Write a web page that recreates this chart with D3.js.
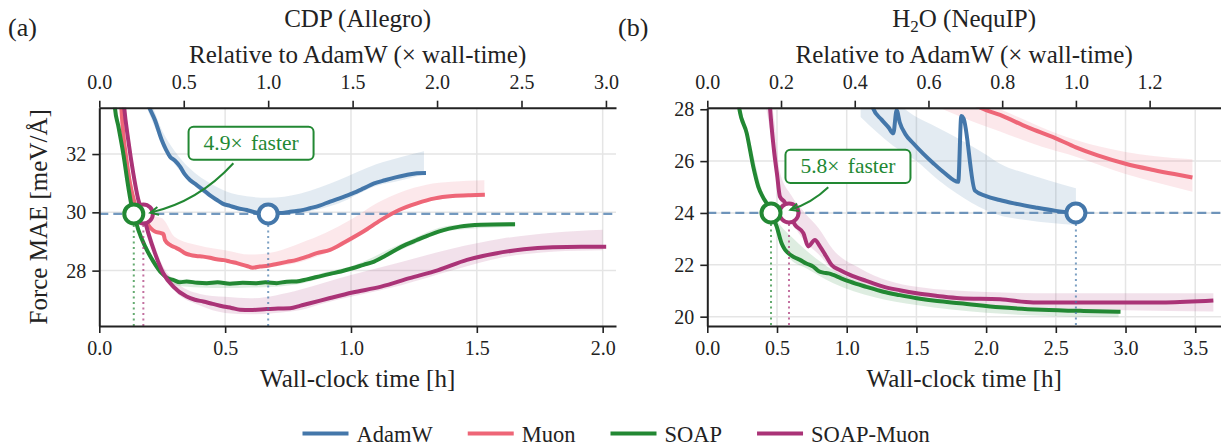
<!DOCTYPE html>
<html>
<head>
<meta charset="utf-8">
<script src="https://cdn.jsdelivr.net/npm/d3@7"></script>
<style>
  body { margin: 0; background: #fff; }
</style>
</head>
<body>
<svg id="chart" width="1221" height="446"></svg>
<script>
const optimizers = ["AdamW", "Muon", "SOAP", "SOAP-Muon"];
const colors = ["#4477AA", "#EE6677", "#228833", "#AA3377"];

// (a) CDP (Allegro): [time h, force MAE]
const cdpAdamW = [[0.185,33.9],[0.199,33.59],[0.221,33.17],[0.248,32.48],[0.265,32.15],[0.281,31.91],[0.3,31.78],[0.321,31.57],[0.34,31.3],[0.36,31.11],[0.385,30.95],[0.413,30.77],[0.44,30.58],[0.466,30.43],[0.49,30.3],[0.519,30.22],[0.55,30.14],[0.586,30.08],[0.61,30.02],[0.632,29.97],[0.671,29.945],[0.71,29.97],[0.735,29.99],[0.758,30.02],[0.8,30.06],[0.837,30.14],[0.875,30.23],[0.917,30.37],[0.96,30.5],[1.006,30.65],[1.05,30.82],[1.092,30.99],[1.135,31.1],[1.177,31.2],[1.22,31.28],[1.262,31.34],[1.298,31.35]];
const cdpMuon = [[0.085,33.9],[0.095,32.71],[0.108,31.8],[0.122,31.0],[0.135,30.5],[0.149,30.08],[0.168,29.8],[0.188,29.63],[0.205,29.45],[0.221,29.34],[0.248,29.28],[0.255,29.25],[0.261,29.05],[0.281,28.88],[0.3,28.8],[0.321,28.71],[0.34,28.6],[0.36,28.54],[0.385,28.5],[0.413,28.48],[0.44,28.44],[0.466,28.39],[0.495,28.36],[0.519,28.31],[0.55,28.25],[0.586,28.16],[0.61,28.1],[0.638,28.14],[0.67,28.17],[0.705,28.23],[0.745,28.3],[0.784,28.37],[0.825,28.48],[0.864,28.6],[0.917,28.71],[0.978,28.99],[1.049,29.34],[1.12,29.74],[1.191,30.08],[1.262,30.31],[1.333,30.48],[1.404,30.56],[1.475,30.59],[1.532,30.6]];
const cdpSoap = [[0.058,34.0],[0.062,33.59],[0.076,32.94],[0.095,32.03],[0.115,30.88],[0.129,30.2],[0.137,29.945],[0.155,29.4],[0.182,28.83],[0.215,28.31],[0.248,27.91],[0.27,27.75],[0.294,27.68],[0.32,27.6],[0.347,27.63],[0.39,27.58],[0.427,27.57],[0.47,27.6],[0.519,27.55],[0.57,27.58],[0.625,27.57],[0.66,27.6],[0.705,27.57],[0.745,27.62],[0.784,27.63],[0.825,27.7],[0.864,27.78],[0.917,27.89],[0.96,27.97],[1.006,28.08],[1.05,28.2],[1.092,28.31],[1.135,28.5],[1.177,28.71],[1.22,28.9],[1.262,29.05],[1.305,29.2],[1.348,29.34],[1.39,29.44],[1.432,29.51],[1.517,29.57],[1.652,29.59]];
const cdpSoapMuon = [[0.095,34.0],[0.099,33.59],[0.115,32.48],[0.135,31.34],[0.155,30.43],[0.175,29.91],[0.195,29.28],[0.221,28.6],[0.254,27.91],[0.294,27.45],[0.347,27.11],[0.38,27.0],[0.413,26.94],[0.45,26.86],[0.493,26.77],[0.525,26.72],[0.559,26.66],[0.6,26.65],[0.665,26.68],[0.71,26.7],[0.758,26.71],[0.8,26.8],[0.837,26.88],[0.917,27.06],[1.006,27.25],[1.12,27.45],[1.233,27.74],[1.347,28.02],[1.461,28.37],[1.574,28.59],[1.687,28.73],[1.801,28.8],[1.915,28.82],[2.014,28.82]];

// bands: [time h, low, high]
const cdpAdamWBand = [[0.18,33.8,34.3],[0.2,33.35,33.9],[0.25,32.35,32.8],[0.3,31.65,32.1],[0.36,31.05,31.5],[0.45,30.45,30.95],[0.55,30.1,30.6],[0.67,29.9,30.5],[0.8,29.98,30.65],[0.95,30.3,31.1],[1.1,30.9,31.65],[1.2,31.1,31.9],[1.29,31.3,32.1]];
const cdpMuonBand = [[0.085,33.7,34.1],[0.1,32.4,32.9],[0.15,30.0,30.3],[0.2,29.5,29.9],[0.25,29.2,29.8],[0.26,29.0,29.7],[0.3,28.75,29.15],[0.4,28.45,28.85],[0.5,28.3,28.7],[0.6,28.1,28.55],[0.7,28.15,28.65],[0.8,28.3,28.95],[0.9,28.6,29.3],[1.0,29.0,29.75],[1.1,29.6,30.3],[1.2,30.05,30.7],[1.3,30.35,30.95],[1.4,30.5,31.05],[1.53,30.55,31.1]];
const cdpSoapBand = [[0.058,33.9,34.1],[0.1,31.7,31.95],[0.15,29.5,29.7],[0.2,28.45,28.65],[0.25,27.8,28.0],[0.3,27.5,27.72],[0.4,27.42,27.65],[0.5,27.4,27.62],[0.6,27.42,27.63],[0.7,27.45,27.65],[0.8,27.55,27.72],[0.9,27.78,27.95],[1.0,28.0,28.15],[1.2,28.72,28.92],[1.4,29.38,29.56],[1.65,29.5,29.66]];
const cdpSoapMuonBand = [[0.095,33.7,34.2],[0.15,30.5,30.9],[0.2,29.0,29.4],[0.25,27.9,28.2],[0.3,27.3,27.65],[0.4,26.8,27.2],[0.5,26.55,27.1],[0.6,26.5,27.05],[0.7,26.55,27.15],[0.8,26.65,27.35],[0.9,26.9,27.6],[1.0,27.1,27.85],[1.2,27.5,28.3],[1.4,28.0,28.75],[1.6,28.45,29.1],[1.8,28.65,29.3],[2.0,28.7,29.4]];

// (b) H2O (NequIP)
const h2oAdamW = [[1.17,28.4],[1.19,28.03],[1.25,27.6],[1.3,27.3],[1.334,27.07],[1.358,27.96],[1.38,27.5],[1.42,27.05],[1.477,26.69],[1.55,26.28],[1.621,25.92],[1.7,25.55],[1.8,25.2],[1.822,27.74],[1.838,27.65],[1.92,24.86],[2.0,24.65],[2.097,24.5],[2.2,24.37],[2.354,24.21],[2.5,24.08],[2.644,24.0]];
const h2oMuon = [[1.9,28.25],[1.96,28.06],[2.1,27.78],[2.3,27.3],[2.5,26.88],[2.644,26.53],[2.8,26.22],[3.0,25.9],[3.2,25.66],[3.35,25.5],[3.48,25.37]];
const h2oSoap = [[0.222,28.3],[0.229,28.04],[0.283,27.07],[0.33,25.78],[0.366,25.01],[0.4,24.6],[0.426,24.37],[0.457,24.0],[0.498,23.47],[0.533,22.83],[0.555,22.6],[0.581,22.45],[0.62,22.3],[0.665,22.19],[0.71,22.05],[0.76,21.93],[0.8,21.75],[0.832,21.7],[0.87,21.67],[0.904,21.61],[0.96,21.48],[1.023,21.35],[1.14,21.15],[1.262,20.96],[1.38,20.83],[1.502,20.71],[1.65,20.6],[1.812,20.52],[2.1,20.36],[2.4,20.27],[2.7,20.22],[2.964,20.19]];
const h2oSoapMuon = [[0.447,28.3],[0.45,28.06],[0.478,26.43],[0.5,25.5],[0.521,24.63],[0.557,24.4],[0.586,24.0],[0.629,23.54],[0.689,23.22],[0.724,22.71],[0.772,22.96],[0.808,22.71],[0.85,22.35],[0.892,21.99],[0.95,21.8],[1.023,21.61],[1.14,21.38],[1.262,21.16],[1.38,21.02],[1.502,20.9],[1.65,20.8],[1.812,20.71],[2.1,20.67],[2.338,20.55],[2.8,20.55],[3.29,20.55],[3.63,20.62]];

const h2oAdamWBand = [[1.1,27.7,28.6],[1.33,26.6,28.3],[1.5,26.0,27.7],[1.65,25.3,27.3],[1.79,24.75,26.9],[2.0,24.1,26.25],[2.1,23.9,25.9],[2.3,23.72,25.5],[2.45,23.62,25.25],[2.644,23.54,24.95]];
const h2oMuonBand = [[1.65,28.1,28.9],[1.8,27.75,28.6],[2.1,27.14,28.0],[2.4,26.55,27.3],[2.644,26.17,26.81],[3.0,25.5,26.35],[3.2,25.2,26.2],[3.48,24.82,26.07]];
const h2oSoapBand = [[0.222,28.0,28.3],[0.3,26.6,26.9],[0.4,24.5,24.75],[0.457,23.9,24.1],[0.5,23.2,23.7],[0.6,22.2,23.1],[0.7,21.9,22.6],[0.9,21.3,21.8],[1.2,20.75,21.15],[1.5,20.45,20.8],[2.0,20.15,20.45],[2.5,20.02,20.3],[2.95,19.98,20.25]];
const h2oSoapMuonBand = [[0.42,28.1,29.0],[0.48,26.2,27.6],[0.52,24.5,25.6],[0.6,23.7,24.7],[0.7,22.9,24.0],[0.8,22.4,23.4],[0.9,21.8,22.6],[1.1,21.3,21.85],[1.5,20.75,21.15],[2.0,20.45,20.95],[2.5,20.3,20.9],[3.0,20.25,20.9],[3.63,20.2,20.9]];

// time at which each optimizer reaches the AdamW target (null = not marked)
const cdpCross = [0.671, null, 0.137, 0.175];
const h2oCross = [2.644, null, 0.457, 0.586];
const cdpTarget = 29.945;
const h2oTarget = 24.0;
const speedupLabels = ["4.9\u00d7 faster", "5.8\u00d7 faster"];

const cdpTimeTicks = [0, 0.5, 1, 1.5, 2];
const cdpRelTicks = [0, 0.5, 1, 1.5, 2, 2.5, 3];
const cdpMaeTicks = [28, 30, 32];
const h2oTimeTicks = [0, 0.5, 1, 1.5, 2, 2.5, 3, 3.5];
const h2oRelTicks = [0, 0.2, 0.4, 0.6, 0.8, 1.0, 1.2];
const h2oMaeTicks = [20, 22, 24, 26, 28];

const plotTop = 107.7, plotBottom = 326;
const ink = "#222";
const serif = "'Liberation Serif', 'DejaVu Serif', serif";

const panels = [
  { key: "a", label: "(a)", title: "CDP (Allegro)", left: 99.3, right: 616, xMax: 2.053, yDomain: [26.10, 33.59],
    lines: [cdpAdamW, cdpMuon, cdpSoap, cdpSoapMuon], bands: [cdpAdamWBand, cdpMuonBand, cdpSoapBand, cdpSoapMuonBand],
    cross: cdpCross, target: cdpTarget, timeTicks: cdpTimeTicks, relTicks: cdpRelTicks, maeTicks: cdpMaeTicks,
    speedup: speedupLabels[0], box: [0.603, 32.37], arrowStart: [-17.7, 20], arrowEnd: [7, -1.3], arrowCtrl: [198.3, 201.7],
    showYLabel: true, labelX: 8 },
  { key: "b", label: "(b)", title: "H2O (NequIP)", left: 707.3, right: 1222, xMax: 3.692, yDomain: [19.64, 28.06],
    lines: [h2oAdamW, h2oMuon, h2oSoap, h2oSoapMuon], bands: [h2oAdamWBand, h2oMuonBand, h2oSoapBand, h2oSoapMuonBand],
    cross: h2oCross, target: h2oTarget, timeTicks: h2oTimeTicks, relTicks: h2oRelTicks, maeTicks: h2oMaeTicks,
    speedup: speedupLabels[1], box: [1.009, 25.80], arrowStart: [-19.7, 21], arrowEnd: [1.5, -3.2], arrowCtrl: [812, 203],
    showYLabel: false, labelX: 618 }
];

const svg = d3.select("#chart").attr("font-family", serif);
const defs = svg.append("defs");

function addText(parent, size) {
  return parent.append("text").attr("font-family", serif).attr("font-size", size).attr("fill", ink);
}

function styleAxis(g, size) {
  g.attr("font-family", serif).attr("font-size", size);
  g.select(".domain").attr("stroke", ink).attr("stroke-width", 2);
  g.selectAll(".tick line").attr("stroke", ink).attr("stroke-width", 1.6);
  g.selectAll(".tick text").attr("fill", ink).attr("font-family", serif).attr("font-size", size);
}

function drawPanel(p) {
  const x = d3.scaleLinear().domain([0, p.xMax]).range([p.left, p.right]);
  const y = d3.scaleLinear().domain(p.yDomain).range([plotBottom, plotTop]);
  const adamTime = p.cross[0];
  const xRel = d3.scaleLinear().domain([0, p.xMax / adamTime]).range([p.left, p.right]);
  const g = svg.append("g");

  defs.append("clipPath").attr("id", "clip-" + p.key)
    .append("rect").attr("x", p.left).attr("y", plotTop)
    .attr("width", p.right - p.left).attr("height", plotBottom - plotTop);

  // grid
  const grid = g.append("g").attr("stroke", "#e5e5e5").attr("stroke-width", 1.5);
  grid.selectAll(".gx").data(p.timeTicks.filter(d => d > 0)).join("line")
    .attr("x1", d => x(d)).attr("x2", d => x(d)).attr("y1", plotTop).attr("y2", plotBottom);
  grid.selectAll(".gy").data(p.maeTicks).join("line")
    .attr("x1", p.left).attr("x2", p.right).attr("y1", d => y(d)).attr("y2", d => y(d));

  const plot = g.append("g").attr("clip-path", `url(#clip-${p.key})`);

  const area = d3.area().x(d => x(d[0])).y0(d => y(d[1])).y1(d => y(d[2])).curve(d3.curveMonotoneX);
  p.bands.forEach((b, i) => {
    plot.append("path").datum(b).attr("d", area).attr("fill", colors[i]).attr("fill-opacity", 0.15);
  });

  // AdamW target line
  plot.append("line").attr("x1", p.left).attr("x2", p.right)
    .attr("y1", y(p.target)).attr("y2", y(p.target))
    .attr("stroke", colors[0]).attr("stroke-opacity", 0.75).attr("stroke-width", 2.2)
    .attr("stroke-dasharray", "9,5");

  const line = d3.line().x(d => x(d[0])).y(d => y(d[1])).curve(d3.curveMonotoneX);
  p.lines.forEach((l, i) => {
    plot.append("path").datum(l).attr("d", line).attr("fill", "none")
      .attr("stroke", colors[i]).attr("stroke-width", 4).attr("stroke-linejoin", "round");
  });

  // dotted drops + circles
  const order = [0, 3, 2];
  order.forEach(i => {
    plot.append("line").attr("x1", x(p.cross[i])).attr("x2", x(p.cross[i]))
      .attr("y1", y(p.target)).attr("y2", plotBottom)
      .attr("stroke", colors[i]).attr("stroke-opacity", 0.7).attr("stroke-width", 2)
      .attr("stroke-dasharray", "2,3.5");
  });
  order.forEach(i => {
    g.append("circle").attr("cx", x(p.cross[i])).attr("cy", y(p.target)).attr("r", 9.5)
      .attr("fill", "#fff").attr("stroke", colors[i]).attr("stroke-width", 4);
  });

  // axes
  const ax = g.append("g").attr("transform", `translate(0,${plotBottom})`)
    .call(d3.axisBottom(x).tickValues(p.timeTicks).tickFormat(d3.format(".1f")).tickSize(7).tickSizeOuter(0).tickPadding(8));
  styleAxis(ax, 20);
  const axTop = g.append("g").attr("transform", `translate(0,${plotTop})`)
    .call(d3.axisTop(xRel).tickValues(p.relTicks).tickFormat(d3.format(".1f")).tickSize(7).tickSizeOuter(0).tickPadding(12));
  styleAxis(axTop, 20);
  const ay = g.append("g").attr("transform", `translate(${p.left},0)`)
    .call(d3.axisLeft(y).tickValues(p.maeTicks).tickFormat(d3.format("d")).tickSize(7).tickSizeOuter(0).tickPadding(6));
  styleAxis(ay, 20);

  // labels
  const cx = (p.left + Math.min(p.right, 1221)) / 2;
  const t = addText(g, 25).attr("x", cx).attr("y", 27.3).attr("text-anchor", "middle");
  if (p.key === "b") {
    t.append("tspan").text("H");
    t.append("tspan").text("2").attr("font-size", 17).attr("dy", 5);
    t.append("tspan").text("O (NequIP)").attr("dy", -5);
  } else {
    t.text(p.title);
  }
  addText(g, 26).attr("x", p.labelX).attr("y", 36).text(p.label);
  addText(g, 25).attr("x", cx).attr("y", 63).attr("text-anchor", "middle")
    .text("Relative to AdamW (\u00d7 wall-time)");
  addText(g, 25).attr("x", cx).attr("y", 386.5).attr("text-anchor", "middle")
    .text("Wall-clock time [h]");
  if (p.showYLabel) {
    addText(g, 25).attr("transform", `translate(47,${(plotTop + plotBottom) / 2}) rotate(-90)`)
      .attr("text-anchor", "middle").text("Force MAE [meV/\u00c5]");
  }

  // speedup annotation
  const bx = x(p.box[0]), by = y(p.box[1]);
  const ann = g.append("g");
  ann.append("rect").attr("x", bx - 62.5).attr("y", by - 16.6).attr("width", 125).attr("height", 33.2)
    .attr("rx", 5).attr("fill", "#fff").attr("stroke", colors[2]).attr("stroke-width", 2);
  addText(ann, 21.5).attr("x", bx).attr("y", by + 7).attr("text-anchor", "middle")
    .attr("fill", colors[2]).attr("word-spacing", 3).text(p.speedup);
  const s = [bx + p.arrowStart[0], by + p.arrowStart[1]];
  const e = [x(p.cross[3]) + p.arrowEnd[0], y(p.target) + p.arrowEnd[1]];
  const c = p.arrowCtrl;
  ann.append("path").attr("d", `M${s[0]},${s[1]} Q${c[0]},${c[1]} ${e[0]},${e[1]}`)
    .attr("fill", "none").attr("stroke", colors[2]).attr("stroke-width", 2);
  const ang = Math.atan2(e[1] - c[1], e[0] - c[0]);
  const hl = 9, hw = 0.45;
  const h1 = [e[0] - hl * Math.cos(ang - hw), e[1] - hl * Math.sin(ang - hw)];
  const h2 = [e[0] - hl * Math.cos(ang + hw), e[1] - hl * Math.sin(ang + hw)];
  ann.append("path").attr("d", `M${h1[0]},${h1[1]} L${e[0]},${e[1]} L${h2[0]},${h2[1]}`)
    .attr("fill", "none").attr("stroke", colors[2]).attr("stroke-width", 2);
}

panels.forEach(drawPanel);

// legend
const legend = svg.append("g");
let lx = 302.5;
optimizers.forEach((name, i) => {
  legend.append("line").attr("x1", lx).attr("x2", lx + 46).attr("y1", 433.5).attr("y2", 433.5)
    .attr("stroke", colors[i]).attr("stroke-width", 4);
  const txt = addText(legend, 22.5).attr("x", lx + 54).attr("y", 441.5).text(name);
  lx += 54 + txt.node().getComputedTextLength() + 35;
});
</script>
</body>
</html>
